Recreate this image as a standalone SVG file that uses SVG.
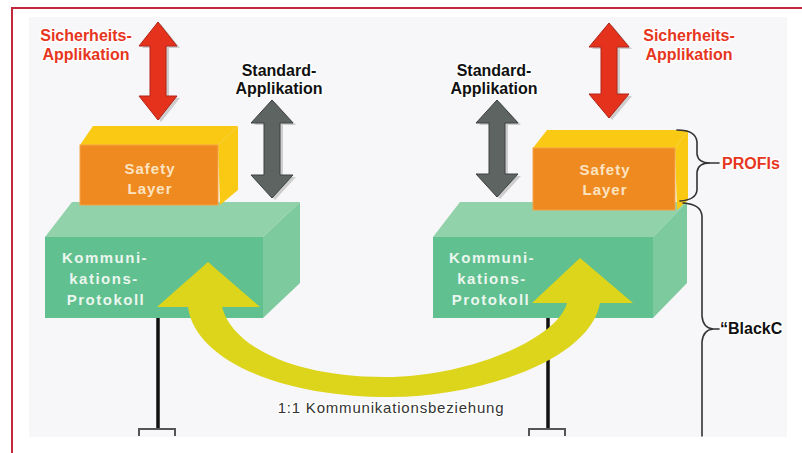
<svg xmlns="http://www.w3.org/2000/svg" width="802" height="453" viewBox="0 0 802 453">
<style>
.lbl{font-family:"Liberation Sans",Arial,sans-serif;font-weight:bold;font-size:16px;text-anchor:middle;stroke:#ffffff;stroke-width:3;paint-order:stroke;stroke-linejoin:round}
.red{fill:#E6361E}
.blk{fill:#111111}
.box{font-family:"Liberation Sans",Arial,sans-serif;font-weight:bold;font-size:15px;text-anchor:middle;letter-spacing:1.5px}
.safe{font-family:"Liberation Sans",Arial,sans-serif;font-weight:bold;font-size:15px;text-anchor:middle;letter-spacing:1px;fill:#FCE3C2}
.gfront{fill:#60C08F}
.gtop{fill:#92D2AA}
.gside{fill:#7DCA9E}
.ofront{fill:#EF8A20;stroke:#F5A348;stroke-width:1}
.yel{fill:#F9C914}
.redarrow{fill:#E5321C;stroke:#B02418;stroke-width:1}
.grayarrow{fill:#5E6462;stroke:#3C4140;stroke-width:1}
.shadow{fill:#9A9A9A;opacity:0.45}
.brace{fill:none;stroke:#333333;stroke-width:1.6;stroke-linecap:round}
.bus{stroke:#111111;stroke-width:3.5}
.tee{fill:none;stroke:#555555;stroke-width:2}
</style>
<rect x="0" y="0" width="802" height="453" fill="#ffffff"/>
<path d="M12,453 L12,8 L802,8" fill="none" stroke="#C2283C" stroke-width="2"/>
<rect x="29" y="17" width="758" height="420" fill="#F7F7F9"/>

<g id="comm-left">
  <polygon class="gtop" points="45,237 72,202 300,202 263,237"/>
  <polygon class="gside" points="263,237 300,202 300,283 263,318"/>
  <rect class="gfront" x="45" y="237" width="218" height="81"/>
  <text class="box" fill="#EAF6EE"><tspan x="105" y="263">Kommuni-</tspan><tspan x="104" y="284">kations-</tspan><tspan x="106" y="305">Protokoll</tspan></text>
</g>
<g id="comm-right">
  <polygon class="gtop" points="433,237 460,202 687,202 653,237"/>
  <polygon class="gside" points="653,237 687,202 687,283 653,318"/>
  <rect class="gfront" x="433" y="237" width="220" height="81"/>
  <text class="box" fill="#EAF6EE"><tspan x="492" y="263">Kommuni-</tspan><tspan x="492" y="284">kations-</tspan><tspan x="491" y="305">Protokoll</tspan></text>
</g>
<g id="safety-left">
  <polygon class="yel" points="80,145 93,126 238,126 218,145"/>
  <polygon class="yel" points="218,145 238,126 238,190 220,205"/>
  <rect class="ofront" x="80" y="145" width="138" height="60"/>
  <text class="safe"><tspan x="150" y="174">Safety</tspan><tspan x="150" y="194">Layer</tspan></text>
</g>
<g id="safety-right">
  <polygon class="yel" points="533,148 547,130 688,130 675,148"/>
  <polygon class="yel" points="675,148 688,130 688,200 677,210"/>
  <rect class="ofront" x="533" y="148" width="142" height="62"/>
  <text class="safe"><tspan x="605" y="175">Safety</tspan><tspan x="605" y="195">Layer</tspan></text>
</g>

<g id="connectors">
  <line class="bus" x1="158" y1="318" x2="158" y2="429"/>
  <path class="tee" d="M139,436 L139,429 L175,429 L175,436"/>
  <line class="bus" x1="548" y1="318" x2="548" y2="429"/>
  <path class="tee" d="M529,436 L529,429 L565,429 L565,436"/>
  <path id="yellow-arrow" fill="#DDD51C" d="M208,262 L260,307 L222,307 C232,345 290,377 385,377 C470,377 558,338 567,303 L532,303 L580,258 L633,303 L600,303 C590,360 480,397 390,397 C280,397 195,360 188,307 L157,307 Z"/>
  <g id="safety-arrow-left">
    <polygon class="shadow" transform="translate(3,2)" points="158,22 177,46 166,46 166,96 177,96 158,120 139,96 150,96 150,46 139,46"/>
    <polygon class="redarrow" points="158,22 177,46 166,46 166,96 177,96 158,120 139,96 150,96 150,46 139,46"/>
  </g>
  <g id="safety-arrow-right">
    <polygon class="shadow" transform="translate(3,2)" points="609,23 629,47 617,47 617,94 629,94 609,118 589,94 601,94 601,47 589,47"/>
    <polygon class="redarrow" points="609,23 629,47 617,47 617,94 629,94 609,118 589,94 601,94 601,47 589,47"/>
  </g>
  <g id="standard-arrow-left">
    <polygon class="shadow" transform="translate(3,2)" points="272,100 293,123 280,123 280,175 293,175 272,198 251,175 264,175 264,123 251,123"/>
    <polygon class="grayarrow" points="272,100 293,123 280,123 280,175 293,175 272,198 251,175 264,175 264,123 251,123"/>
  </g>
  <g id="standard-arrow-right">
    <polygon class="shadow" transform="translate(3,2)" points="497,100 518,123 505,123 505,174 518,174 497,197 476,174 489,174 489,123 476,123"/>
    <polygon class="grayarrow" points="497,100 518,123 505,123 505,174 518,174 497,197 476,174 489,174 489,123 476,123"/>
  </g>
  <path class="brace" d="M677,130 Q696,130 697,142 L697,154 Q698,163 710,163 Q698,163 697,172 L697,190 Q696,200 680,201"/>
  <line class="brace" x1="710" y1="163" x2="719" y2="163"/>
  <path class="brace" d="M683,203 Q701,204 702,216 L702,316 Q703,328 713,329 Q703,330 702,342 L702,436"/>
  <line class="brace" x1="713" y1="329" x2="719" y2="329"/>
</g>

<g id="labels">
  <text class="lbl red"><tspan x="86" y="41">Sicherheits-</tspan><tspan x="86" y="60">Applikation</tspan></text>
  <text class="lbl red"><tspan x="689" y="41">Sicherheits-</tspan><tspan x="689" y="60">Applikation</tspan></text>
  <text class="lbl blk"><tspan x="279" y="76">Standard-</tspan><tspan x="279" y="94">Applikation</tspan></text>
  <text class="lbl blk"><tspan x="494" y="76">Standard-</tspan><tspan x="494" y="94">Applikation</tspan></text>
  <text class="lbl red" x="722" y="169" style="text-anchor:start">PROFIs</text>
  <text class="lbl blk" x="720" y="334" style="text-anchor:start">“BlackC</text>
  <text x="391" y="413" font-family="Liberation Sans, Arial, sans-serif" font-size="15" letter-spacing="0.8" text-anchor="middle" fill="#333333" stroke="#ffffff" stroke-width="2.5" paint-order="stroke">1:1 Kommunikationsbeziehung</text>
</g>
</svg>
